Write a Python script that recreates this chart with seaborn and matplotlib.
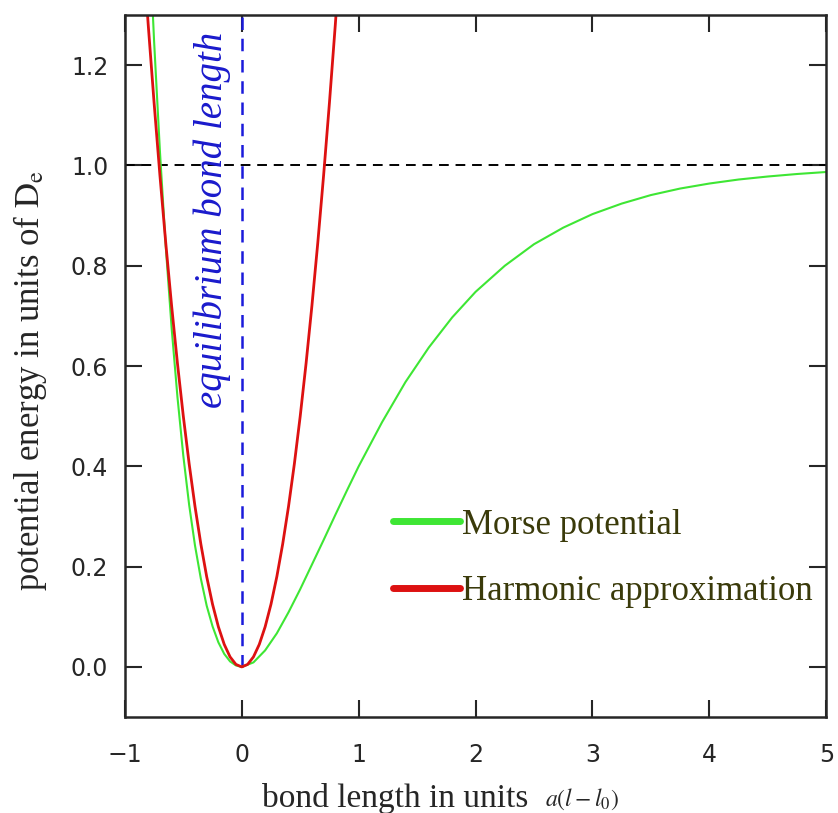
import pandas as pd
import matplotlib
matplotlib.use('Agg')
import matplotlib.pyplot as plt
import seaborn as sns

sns.set_style('ticks')
plt.rcParams['font.family'] = ['Liberation Serif', 'DejaVu Serif']
plt.rcParams['mathtext.fontset'] = 'stix'

# ============================================================
# 数据
# ============================================================
morse_x = [-0.80, -0.75, -0.70, -0.65, -0.60, -0.55, -0.50, -0.45, -0.40, -0.35,
           -0.30, -0.25, -0.20, -0.15, -0.10, -0.05, 0.0, 0.1, 0.2, 0.3, 0.4, 0.5,
           0.6, 0.7, 0.8, 0.9, 1.0, 1.2, 1.4, 1.6, 1.8, 2.0, 2.25, 2.5, 2.75, 3.0,
           3.25, 3.5, 3.75, 4.0, 4.25, 4.5, 4.75, 5.0]
morse_y = [1.502, 1.248, 1.028, 0.838, 0.676, 0.538, 0.421, 0.323, 0.242, 0.176,
           0.122, 0.081, 0.049, 0.026, 0.011, 0.003, 0.0, 0.009, 0.033, 0.067, 0.109,
           0.155, 0.204, 0.253, 0.303, 0.352, 0.400, 0.488, 0.568, 0.637, 0.697,
           0.748, 0.800, 0.843, 0.876, 0.903, 0.924, 0.941, 0.954, 0.964, 0.972,
           0.978, 0.983, 0.987]

harm_x = [-0.85, -0.80, -0.75, -0.70, -0.65, -0.60, -0.55, -0.50, -0.45, -0.40,
          -0.35, -0.30, -0.25, -0.20, -0.15, -0.10, -0.05, 0.0, 0.05, 0.10, 0.15,
          0.20, 0.25, 0.30, 0.35, 0.40, 0.45, 0.50, 0.55, 0.60, 0.65, 0.70, 0.75,
          0.80, 0.85]
harm_y = [1.445, 1.280, 1.125, 0.980, 0.845, 0.720, 0.605, 0.500, 0.405, 0.320,
          0.245, 0.180, 0.125, 0.080, 0.045, 0.020, 0.005, 0.0, 0.005, 0.020, 0.045,
          0.080, 0.125, 0.180, 0.245, 0.320, 0.405, 0.500, 0.605, 0.720, 0.845,
          0.980, 1.125, 1.280, 1.445]

x_ticks = [-1, 0, 1, 2, 3, 4, 5]
y_ticks = [0.0, 0.2, 0.4, 0.6, 0.8, 1.0, 1.2]
y_ticklabels = ['0.0', '0.2', '0.4', '0.6', '0.8', '1.0', '1.2']

GREEN = '#3ee634'
RED = '#dd1111'
LEGEND_TEXT = '#3a3a0a'

morse_df = pd.DataFrame({'x': morse_x, 'y': morse_y})
harm_df = pd.DataFrame({'x': harm_x, 'y': harm_y})

fig = plt.figure(figsize=(8.38, 8.13), dpi=100)
ax = fig.add_axes([0.149, 0.118, 0.837, 0.8635])

sns.lineplot(data=morse_df, x='x', y='y', ax=ax, color=GREEN, lw=1.5,
             estimator=None, label='Morse potential')
sns.lineplot(data=harm_df, x='x', y='y', ax=ax, color=RED, lw=2.0,
             estimator=None, label='Harmonic approximation')

# 参考线
ax.axhline(1.0, color='black', lw=1.4, ls=(0, (5, 3.5)), zorder=1)
ax.plot([0, 0], [0, 1.3], color='#1a1adb', lw=1.8, ls=(0, (5, 3.5)), zorder=1)
ax.text(-0.25, 0.892, 'equilibrium bond length', rotation=90, color='#1a1acc',
        fontsize=28, style='italic', ha='center', va='center')

ax.set_xlim(-1, 5)
ax.set_ylim(-0.1, 1.3)
ax.set_xticks(x_ticks)
ax.set_yticks(y_ticks)
ax.set_yticklabels(y_ticklabels)
ax.tick_params(direction='in', length=12, width=1.5, top=True, right=True,
               labelsize=17)
ax.tick_params(axis='x', pad=19)
ax.tick_params(axis='y', pad=12)
for lab in ax.get_xticklabels() + ax.get_yticklabels():
    lab.set_family(['DejaVu Sans'])
for s in ax.spines.values():
    s.set_linewidth(1.8)

ax.set_xlabel('bond length in units', fontsize=24)
ax.xaxis.set_label_coords(0.385, -0.094)
ax.text(0.599, -0.127, r'$a(l - l_0)$', fontsize=17, transform=ax.transAxes,
        ha='left', va='baseline')
ax.set_ylabel(r'potential energy in units of $\mathrm{D_e}$', fontsize=25)
ax.yaxis.set_label_coords(-0.108, 0.48)

leg = ax.legend(loc='center left', bbox_to_anchor=(0.382, 0.226), frameon=False,
                fontsize=25, handlelength=1.93, handletextpad=0.05,
                labelspacing=0.97, borderpad=0, borderaxespad=0)
for line in leg.get_lines():
    line.set_linewidth(5)
for t in leg.get_texts():
    t.set_color(LEGEND_TEXT)

fig.savefig('out.png', dpi=100, facecolor='white')
